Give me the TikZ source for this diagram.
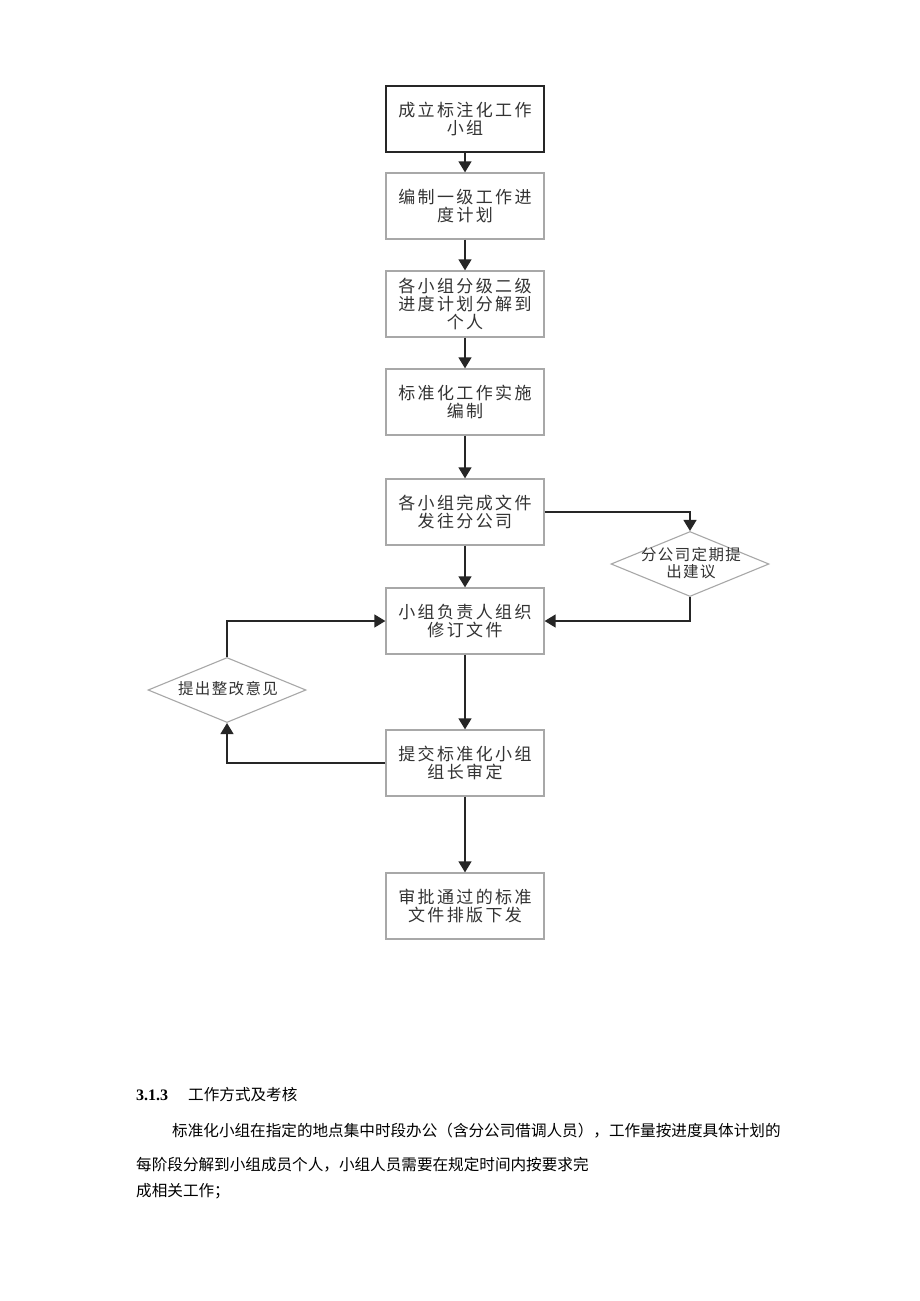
\documentclass[tikz,border=0pt]{standalone}
\usepackage{fontspec}
\usetikzlibrary{arrows.meta,shapes.geometric}
\newfontfamily\boxfont[LetterSpace=14]{Noto Sans CJK SC}
\newfontfamily\diafont[LetterSpace=9]{Noto Sans CJK SC}
\newfontfamily\bodyfont{Noto Sans CJK SC}
\newfontfamily\headfont{Liberation Serif}
\definecolor{boxgray}{HTML}{A8A8A8}
\definecolor{txtgray}{HTML}{333333}
\tikzset{
  stepbox/.style={draw=boxgray, line width=1.3pt, minimum width=158pt, minimum height=66pt,
    inner sep=0pt, align=center, text=txtgray, font={\boxfont\fontsize{17}{18}\selectfont}},
  firstbox/.style={stepbox, draw=black!85},
  decision/.style={diamond, draw=boxgray, line width=1.1pt, minimum width=158pt, minimum height=65pt, inner sep=0pt},
  dtext/.style={align=center, inner sep=0pt, text=txtgray, font={\diafont\fontsize{15.5}{16.5}\selectfont}},
  arr/.style={draw=black!85, line width=1.4pt, -{Triangle[width=13pt,length=11pt]}},
  plain/.style={anchor=west, inner sep=0pt, text=black, font={\bodyfont\fontsize{15.6}{17}\selectfont}}
}
\begin{document}
\begin{tikzpicture}[x=1pt,y=-1pt]
\fill[white] (0,0) rectangle (920,1301);
\useasboundingbox (0,0) rectangle (920,1301);

\node[firstbox] (b1) at (465,119) {成立标注化工作\\小组};
\node[stepbox] (b2) at (465,206) {编制一级工作进\\度计划};
\node[stepbox] (b3) at (465,304) {各小组分级二级\\进度计划分解到\\个人};
\node[stepbox] (b4) at (465,402) {标准化工作实施\\编制};
\node[stepbox] (b5) at (465,512) {各小组完成文件\\发往分公司};
\node[stepbox] (b6) at (465,621) {小组负责人组织\\修订文件};
\node[stepbox] (b7) at (465,763) {提交标准化小组\\组长审定};
\node[stepbox] (b8) at (465,906) {审批通过的标准\\文件排版下发};

\node[decision] (dR) at (690,564) {};
\node[dtext] (dRt) at (691,563) {分公司定期提\\出建议};
\node[decision] (dL) at (227,690) {};
\node[dtext] (dLt) at (228,689) {提出整改意见};

\draw[arr] (b1) -- (b2);
\draw[arr] (b2) -- (b3);
\draw[arr] (b3) -- (b4);
\draw[arr] (b4) -- (b5);
\draw[arr] (b5) -- (b6);
\draw[arr] (b6) -- (b7);
\draw[arr] (b7) -- (b8);
\draw[arr] (b5.east) -| (dR.north);
\draw[arr] (dR.south) |- (b6.east);
\draw[arr] (b7.west) -| (dL.south);
\draw[arr] (dL.north) |- (b6.west);

\node[anchor=west, inner sep=0pt, font={\headfont\bfseries\fontsize{16}{18}\selectfont}] (h1) at (136,1095) {3.1.3};
\node[plain] (h2) at (188,1095) {工作方式及考核};
\node[plain] (p1) at (172,1131) {标准化小组在指定的地点集中时段办公（含分公司借调人员），工作量按进度具体计划的};
\node[plain] (p2) at (136,1165) {每阶段分解到小组成员个人，小组人员需要在规定时间内按要求完};
\node[plain] (p3) at (136,1191) {成相关工作；};
\end{tikzpicture}
\end{document}
